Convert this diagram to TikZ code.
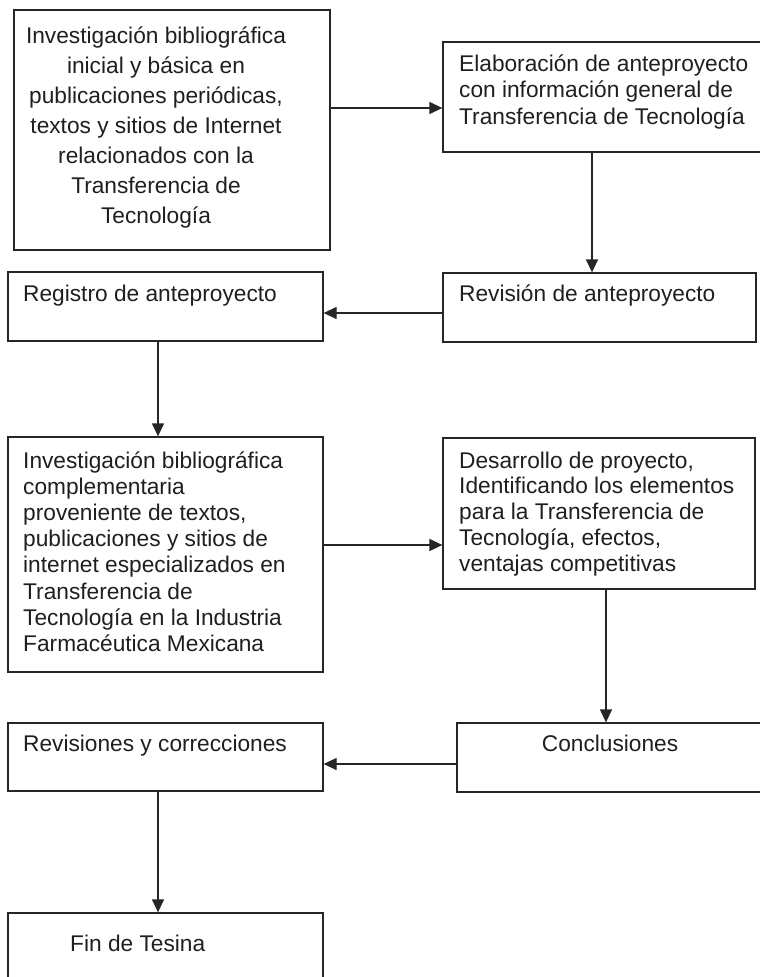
\documentclass[tikz,border=0pt]{standalone}
\usepackage{fontspec}
\setmainfont{Liberation Sans}
\usetikzlibrary{arrows.meta}
\begin{document}
\begin{tikzpicture}[x=1pt,y=1pt,
  box/.style={draw=black!85, line width=1.3pt, rectangle, inner sep=0pt},
  txt/.style={inner sep=0pt, anchor=base west, text=black!88},
  ctxt/.style={inner sep=0pt, anchor=base, text=black!88},
  arr/.style={draw=black!85, line width=1.3pt, -{Triangle[length=13pt,width=12pt]}}]
\useasboundingbox (0,0) rectangle (760,-977);
\clip (0,0) rectangle (760,-977);
\fill[white] (0,0) rectangle (760,-977);
% boxes
\node[box, minimum width=316pt, minimum height=240pt] (b1) at (172,-130) {};
\node[box, minimum width=329pt, minimum height=110pt] (b2) at (607.5,-97) {};
\node[box, minimum width=313pt, minimum height=69pt] (rev) at (599.5,-307.5) {};
\node[box, minimum width=315pt, minimum height=69pt] (reg) at (165.5,-306.5) {};
\node[box, minimum width=315pt, minimum height=235pt] (b5) at (165.5,-554.5) {};
\node[box, minimum width=312pt, minimum height=151pt] (b6) at (599,-513.5) {};
\node[box, minimum width=315pt, minimum height=69pt] (con) at (614.5,-757.5) {};
\node[box, minimum width=315pt, minimum height=68pt] (revs) at (165.5,-757) {};
\node[box, minimum width=315pt, minimum height=77pt] (fin) at (165.5,-951.5) {};
% texts
\node[ctxt] (t1) at (156,-43) {\parbox[t]{310pt}{\centering\fontsize{22.7}{30}\selectfont
Investigación bibliográfica\\ inicial y básica en\\ publicaciones periódicas,\\ textos y sitios de Internet\\ relacionados con la\\ Transferencia de\\ Tecnología}};
\node[txt] (t2) at (459,-71) {\parbox[t]{300pt}{\raggedright\fontsize{22.7}{26.7}\selectfont
Elaboración de anteproyecto\\ con información general de\\ Transferencia de Tecnología}};
\node[txt] (t3) at (459,-301) {\fontsize{22.7}{26}\selectfont Revisión de anteproyecto};
\node[txt] (t4) at (23,-301) {\fontsize{22.7}{26}\selectfont Registro de anteproyecto};
\node[txt] (t5) at (23,-468) {\parbox[t]{300pt}{\raggedright\fontsize{22.7}{26.2}\selectfont
Investigación bibliográfica\\ complementaria\\ proveniente de textos,\\ publicaciones y sitios de\\ internet especializados en\\ Transferencia de\\ Tecnología en la Industria\\ Farmacéutica Mexicana}};
\node[txt] (t6) at (459,-468) {\parbox[t]{300pt}{\raggedright\fontsize{22.7}{25.8}\selectfont
Desarrollo de proyecto,\\ Identificando los elementos\\ para la Transferencia de\\ Tecnología, efectos,\\ ventajas competitivas}};
\node[ctxt] (t7) at (610,-751) {\fontsize{22.7}{26}\selectfont Conclusiones};
\node[txt] (t8) at (23,-751) {\fontsize{22.7}{26}\selectfont Revisiones y correcciones};
\node[txt] (t9) at (70,-951) {\fontsize{22.7}{26}\selectfont Fin de Tesina};
% connectors
\coordinate (y1) at (0,-108);
\coordinate (x2) at (592,0);
\coordinate (y3) at (0,-313);
\coordinate (x4) at (158,0);
\coordinate (y5) at (0,-545);
\coordinate (x6) at (606,0);
\coordinate (y7) at (0,-764);
\draw[arr] (b1.east |- y1) -- (b2.west |- y1);
\draw[arr] (b2.south -| x2) -- (rev.north -| x2);
\draw[arr] (rev.west |- y3) -- (reg.east |- y3);
\draw[arr] (reg.south -| x4) -- (b5.north -| x4);
\draw[arr] (b5.east |- y5) -- (b6.west |- y5);
\draw[arr] (b6.south -| x6) -- (con.north -| x6);
\draw[arr] (con.west |- y7) -- (revs.east |- y7);
\draw[arr] (revs.south -| x4) -- (fin.north -| x4);
\end{tikzpicture}
\end{document}
